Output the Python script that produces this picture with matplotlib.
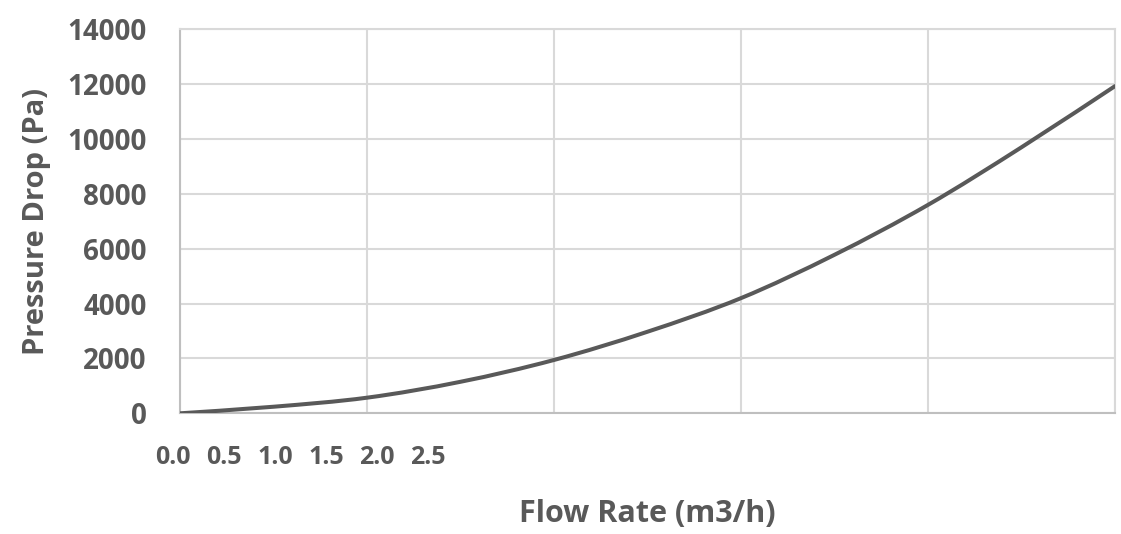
import numpy as np
import matplotlib
matplotlib.use("Agg")
import matplotlib.pyplot as plt
from matplotlib.path import Path
from matplotlib.patches import PathPatch

# values
flow = [0.0, 0.25, 0.5, 0.75, 1.0, 1.25, 1.5, 1.75, 2.0, 2.25, 2.5]
pressure = [0, 240, 570, 1150, 1945, 2975, 4200, 5780, 7600, 9700, 11930]

y_ticks = [0, 2000, 4000, 6000, 8000, 10000, 12000, 14000]
x_tick_labels = ["0.0", "0.5", "1.0", "1.5", "2.0", "2.5"]

TEXT = "#595959"
GRID = "#d9d9d9"

plt.rcParams['font.family'] = ['Open Sans', 'DejaVu Sans']


def smooth_path(xs, ys):
    # Excel-like smoothed line: Catmull-Rom segments as cubic beziers
    pts = np.column_stack([xs, ys]).astype(float)
    verts = [pts[0]]
    codes = [Path.MOVETO]
    n = len(pts)
    for i in range(n - 1):
        p0 = pts[max(i - 1, 0)]
        p1 = pts[i]
        p2 = pts[i + 1]
        p3 = pts[min(i + 2, n - 1)]
        verts += [p1 + (p2 - p0) / 6, p2 - (p3 - p1) / 6, p2]
        codes += [Path.CURVE4] * 3
    return Path(verts, codes)


fig = plt.figure(figsize=(11.21, 5.34), dpi=100)
ax = fig.add_axes([0.1606, 0.226, 0.834, 0.719])

ax.add_patch(PathPatch(smooth_path(flow, pressure), facecolor="none",
                       edgecolor=TEXT, lw=2.9, capstyle="round", zorder=3))

ax.set_xlim(0, 2.5)
ax.set_ylim(0, 14000)
ax.set_xticks(np.arange(0, 2.51, 0.5))
ax.set_yticks(y_ticks)
ax.grid(True, color=GRID, lw=1.5)
for s in ax.spines.values():
    s.set_color(GRID)
    s.set_linewidth(1.5)
ax.spines["left"].set_color("#bfbfbf")
ax.spines["bottom"].set_color("#bfbfbf")

ax.tick_params(axis="both", length=0)
ax.tick_params(axis="y", pad=24, labelsize=20, labelcolor=TEXT)
for lab in ax.get_yticklabels():
    lab.set_fontweight("bold")
ax.set_xticklabels([])

# the x labels sit bunched at the left, as in the source chart
for i, t in enumerate(x_tick_labels):
    ax.text(-0.0075 + i * 0.0545, -0.115, t, transform=ax.transAxes,
            ha="center", va="center", fontsize=18, fontweight="bold",
            color=TEXT)

ax.set_ylabel("Pressure Drop (Pa)", fontsize=21, fontweight="bold",
              color=TEXT, labelpad=12)
ax.set_xlabel("Flow Rate (m3/h)", fontsize=22, fontweight="bold",
              color=TEXT, labelpad=58)

fig.savefig("out.png", dpi=100)
